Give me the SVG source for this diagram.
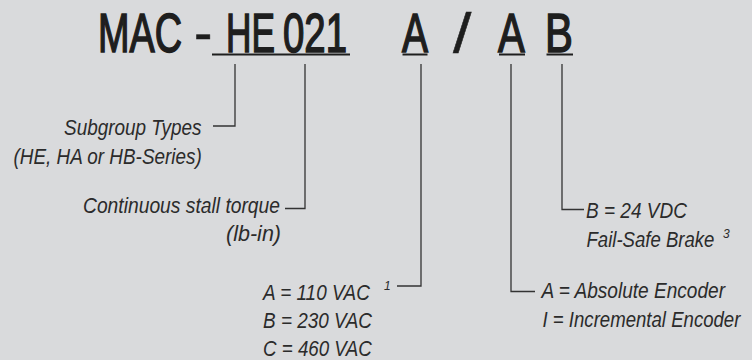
<svg xmlns="http://www.w3.org/2000/svg" width="752" height="360" viewBox="0 0 752 360">
<style>
.t{font-family:"Liberation Sans",Arial,sans-serif;font-size:55px;font-weight:normal;fill:#1e1e1e;stroke:#1e1e1e;stroke-width:1.6}
.n{stroke-width:0.5}
.l{font-family:"Liberation Sans",Arial,sans-serif;font-size:21.5px;font-style:italic;fill:#2b2b2b}
.s{font-family:"Liberation Sans",Arial,sans-serif;font-size:12px;font-style:italic;fill:#2b2b2b}
.u{stroke:#1e1e1e;stroke-width:2;fill:none}
.c{stroke:#333;stroke-width:1.3;fill:none}
</style>
<rect width="752" height="360" fill="#d9dadc"/>
<g id="title">
<text class="t" transform="translate(98,52) scale(0.687,1)">MAC</text>
<text class="t n" transform="translate(194,52)">-</text>
<text class="t" transform="translate(226,52) scale(0.641,1)">HE</text>
<text class="t" transform="translate(283,52) scale(0.698,1)">021</text>
<text class="t" transform="translate(402,52) scale(0.709,1)">A</text>
<text class="t n" transform="translate(453,52) scale(1.2,1)">/</text>
<text class="t" transform="translate(498,52) scale(0.73,1)">A</text>
<text class="t" transform="translate(545,52) scale(0.76,1)">B</text>
<line class="u" x1="212" y1="54.5" x2="350" y2="54.5"/>
<line class="u" x1="402.5" y1="54.5" x2="427.5" y2="54.5"/>
<line class="u" x1="499" y1="54.5" x2="525" y2="54.5"/>
<line class="u" x1="546.5" y1="54.5" x2="573" y2="54.5"/>
</g>
<g id="connectors">
<polyline class="c" points="235,64 235,126 213,126"/>
<polyline class="c" points="305,64 305,208.5 285,208.5"/>
<polyline class="c" points="421,64 421,286 397,286"/>
<polyline class="c" points="511,64 511,291.5 535,291.5"/>
<polyline class="c" points="562,64 562,209.5 584,209.5"/>
</g>
<g id="subgroup">
<text class="l" transform="translate(64,135) scale(0.881,1)">Subgroup Types</text>
<text class="l" transform="translate(13.5,163.5) scale(0.879,1)">(HE, HA or HB-Series)</text>
</g>
<g id="torque">
<text class="l" transform="translate(83,213) scale(0.896,1)">Continuous stall torque</text>
<text class="l" x="281" y="241" text-anchor="end">(lb-in)</text>
</g>
<g id="voltage">
<text class="l" transform="translate(263,300) scale(0.881,1)">A = 110 VAC</text>
<text class="s" x="384" y="290">1</text>
<text class="l" transform="translate(263,328) scale(0.881,1)">B = 230 VAC</text>
<text class="l" transform="translate(263,356) scale(0.872,1)">C = 460 VAC</text>
</g>
<g id="brake">
<text class="l" transform="translate(586,218) scale(0.885,1)">B = 24 VDC</text>
<text class="l" transform="translate(586.5,247) scale(0.864,1)">Fail-Safe Brake</text>
<text class="s" x="723" y="238">3</text>
</g>
<g id="encoder">
<text class="l" transform="translate(541.5,298) scale(0.887,1)">A = Absolute Encoder</text>
<text class="l" transform="translate(542.5,327) scale(0.865,1)">I = Incremental Encoder</text>
</g>
</svg>
